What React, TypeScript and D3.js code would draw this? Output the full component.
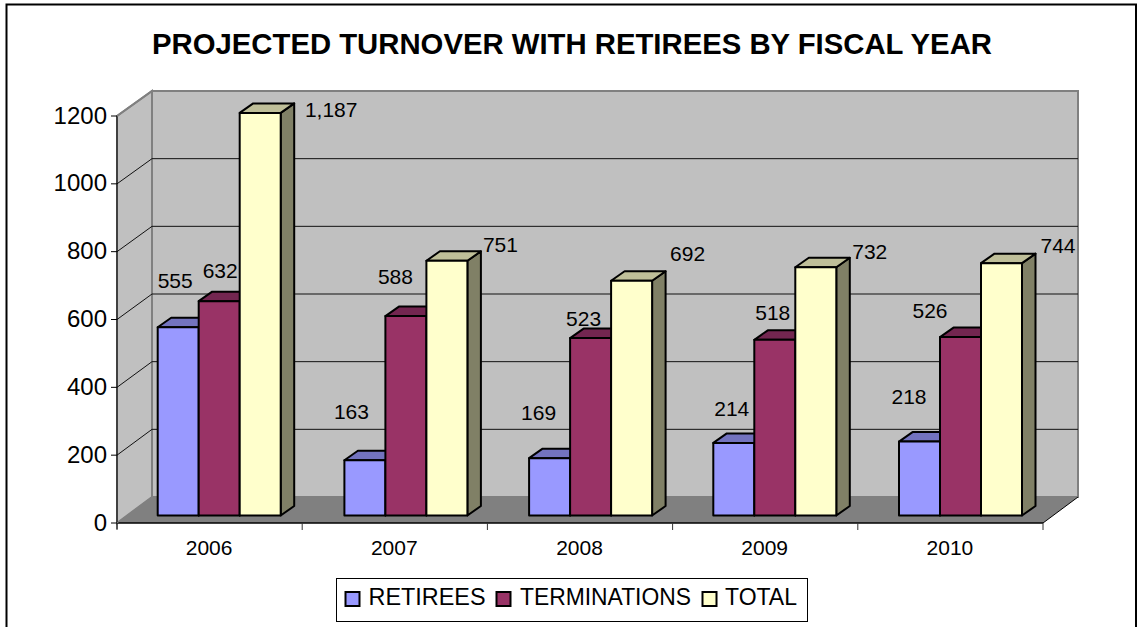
import React from "react";
import * as d3 from "d3";

const years = ["2006", "2007", "2008", "2009", "2010"];
const seriesNames = ["RETIREES", "TERMINATIONS", "TOTAL"];
const retirees = [555, 163, 169, 214, 218];
const terminations = [632, 588, 523, 518, 526];
const total = [1187, 751, 692, 732, 744];
const labelText = [
  ["555", "163", "169", "214", "218"],
  ["632", "588", "523", "518", "526"],
  ["1,187", "751", "692", "732", "744"],
];
const yTicks = [0, 200, 400, 600, 800, 1000, 1200];

// label offsets from the top centre of each bar's front face
const labelDx = [
  [-3, -13.5, -11, -2, -10.5],
  [1, -10.5, -7, -2, -30.5],
  [71, 53.5, 56, 54, 56.5],
];
const labelDy = [
  [-46.5, -48.5, -45.5, -34.5, -45],
  [-31, -40, -20, -27, -27],
  [-3, -16, -27, -16, -18],
];
// small per-group pixel nudges seen in the reference's bar placement
const groupNudge = [0, 1.5, 1, 0, 0.5];

const fronts = ["#9999ff", "#993366", "#ffffcc"];
const tops = ["#7373bf", "#732650", "#bfbf99"];
const sides = ["#737399", "#5c1f3d", "#808066"];

const FONT = "'Liberation Sans', Arial, sans-serif";

const x0 = 117, x1 = 1043, yBase = 523, yTop = 116;
const wallDx = 35;
const backBase = 497, backTop = 91;
const barDx = 10.7, barDy = -7.5;
const depthX = 13.5, depthY = -9.5;
const barW = 41;
const groupPad = 30;

const yScale = d3.scaleLinear().domain([0, 1200]).range([yBase, yTop]);
const yBack = d3.scaleLinear().domain([0, 1200]).range([backBase, backTop]);
const xScale = d3.scaleBand<string>().domain(years).range([x0, x1]);
const values = [retirees, terminations, total];

const poly = (pts: [number, number][]) => d3.line()(pts) + "Z";

export default function App() {
  const step = xScale.step();
  return (
    <svg
      width={1138}
      height={627}
      viewBox="0 0 1138 627"
      style={{ position: "absolute", left: 0, top: 0, display: "block", background: "#fff" }}
      fontFamily={FONT}
    >
      <path d="M6.5 640V4.5H1136V640" fill="none" stroke="#000" strokeWidth={2} />
      <text x={572} y={54} textAnchor="middle" fontSize={29.3} fontWeight="bold" fill="#000">
        PROJECTED TURNOVER WITH RETIREES BY FISCAL YEAR
      </text>

      {/* walls */}
      <path
        d={poly([[x0 + wallDx, backTop], [x1 + wallDx, backTop], [x1 + wallDx, backBase], [x0 + wallDx, backBase]])}
        fill="#c0c0c0"
        stroke="#808080"
        strokeWidth={2}
      />
      <path
        d={poly([[x0, yTop], [x0 + wallDx, backTop], [x0 + wallDx, backBase], [x0, yBase]])}
        fill="#c0c0c0"
        stroke="#808080"
        strokeWidth={2}
      />
      <path
        d={poly([[x0, yBase], [x0 + wallDx, backBase], [x1 + wallDx, backBase], [x1, yBase]])}
        fill="#808080"
      />
      {yTicks.filter((t) => t > 0 && t < 1200).map((t) => (
        <path
          key={t}
          d={`M${x0} ${yScale(t)}L${x0 + wallDx} ${yBack(t)}H${x1 + wallDx}`}
          fill="none"
          stroke="#111"
          strokeWidth={1}
        />
      ))}

      {/* bars */}
      {years.map((year, i) =>
        values.map((vals, s) => {
          const left = (xScale(year) as number) + barDx + groupPad + groupNudge[i] + barW * s;
          const right = left + barW;
          const bottom = yScale(0) + barDy;
          const top = yScale(vals[i]) + barDy;
          return (
            <g key={year + s} stroke="#000" strokeWidth={2} strokeLinejoin="round">
              <path
                d={poly([[right, top], [right + depthX, top + depthY], [right + depthX, bottom + depthY], [right, bottom]])}
                fill={sides[s]}
              />
              <path
                d={poly([[left, top], [left + depthX, top + depthY], [right + depthX, top + depthY], [right, top]])}
                fill={tops[s]}
              />
              <rect x={left} y={top} width={barW} height={bottom - top} fill={fronts[s]} />
            </g>
          );
        })
      )}

      {/* axes */}
      <path d={`M${x0} ${yTop}V${yBase + 6}`} fill="none" stroke="#000" strokeWidth={1} />
      <path d={`M${x0} ${yBase}H${x1}`} fill="none" stroke="#000" strokeWidth={1.5} />
      <path d={`M${x1} ${yBase}L${x1 + wallDx} ${backBase}`} fill="none" stroke="#000" strokeWidth={1} />
      <path d={`M${x0} ${yBase}L${x0 + wallDx} ${backBase}`} fill="none" stroke="#808080" strokeWidth={1} />
      <path d={`M${x0} ${yTop}L${x0 + wallDx} ${backTop}`} fill="none" stroke="#808080" strokeWidth={2} />
      {yTicks.map((t) => (
        <g key={t}>
          <path d={`M${x0 - 6} ${yScale(t)}H${x0}`} stroke="#000" strokeWidth={1} />
          <text x={107} y={yScale(t) - 1} dy="0.36em" textAnchor="end" fontSize={24} fill="#000">
            {t}
          </text>
        </g>
      ))}
      {[...years.map((y) => xScale(y) as number), x1].map((x) => (
        <path key={x} d={`M${x} ${yBase}V${yBase + 7}`} stroke="#333" strokeWidth={1} />
      ))}
      {years.map((y) => (
        <text
          key={y}
          x={(xScale(y) as number) + step / 2 - 0.5}
          y={555}
          textAnchor="middle"
          fontSize={21}
          fill="#000"
        >
          {y}
        </text>
      ))}

      {/* value labels */}
      {years.map((year, i) =>
        values.map((vals, s) => {
          const cx = (xScale(year) as number) + barDx + groupPad + groupNudge[i] + barW * (s + 0.5);
          const top = yScale(vals[i]) + barDy;
          return (
            <text
              key={year + s}
              x={cx + labelDx[s][i]}
              y={top + labelDy[s][i]}
              dy="0.36em"
              textAnchor="middle"
              fontSize={21}
              fill="#000"
            >
              {labelText[s][i]}
            </text>
          );
        })
      )}

      {/* legend */}
      <rect x={336.5} y={578.5} width={471} height={43} fill="#fff" stroke="#000" strokeWidth={1} />
      {seriesNames.map((name, s) => {
        const sx = [345.5, 496.5, 702.5][s];
        const tx = [368.5, 520, 725][s];
        const widths = [117, 171, 72];
        return (
          <g key={name}>
            <rect x={sx} y={592} width={14} height={14} fill={fronts[s]} stroke="#000" strokeWidth={2} />
            <text x={tx} y={605} fontSize={23.4} fill="#000" textLength={widths[s]} lengthAdjust="spacingAndGlyphs">
              {name}
            </text>
          </g>
        );
      })}
    </svg>
  );
}
